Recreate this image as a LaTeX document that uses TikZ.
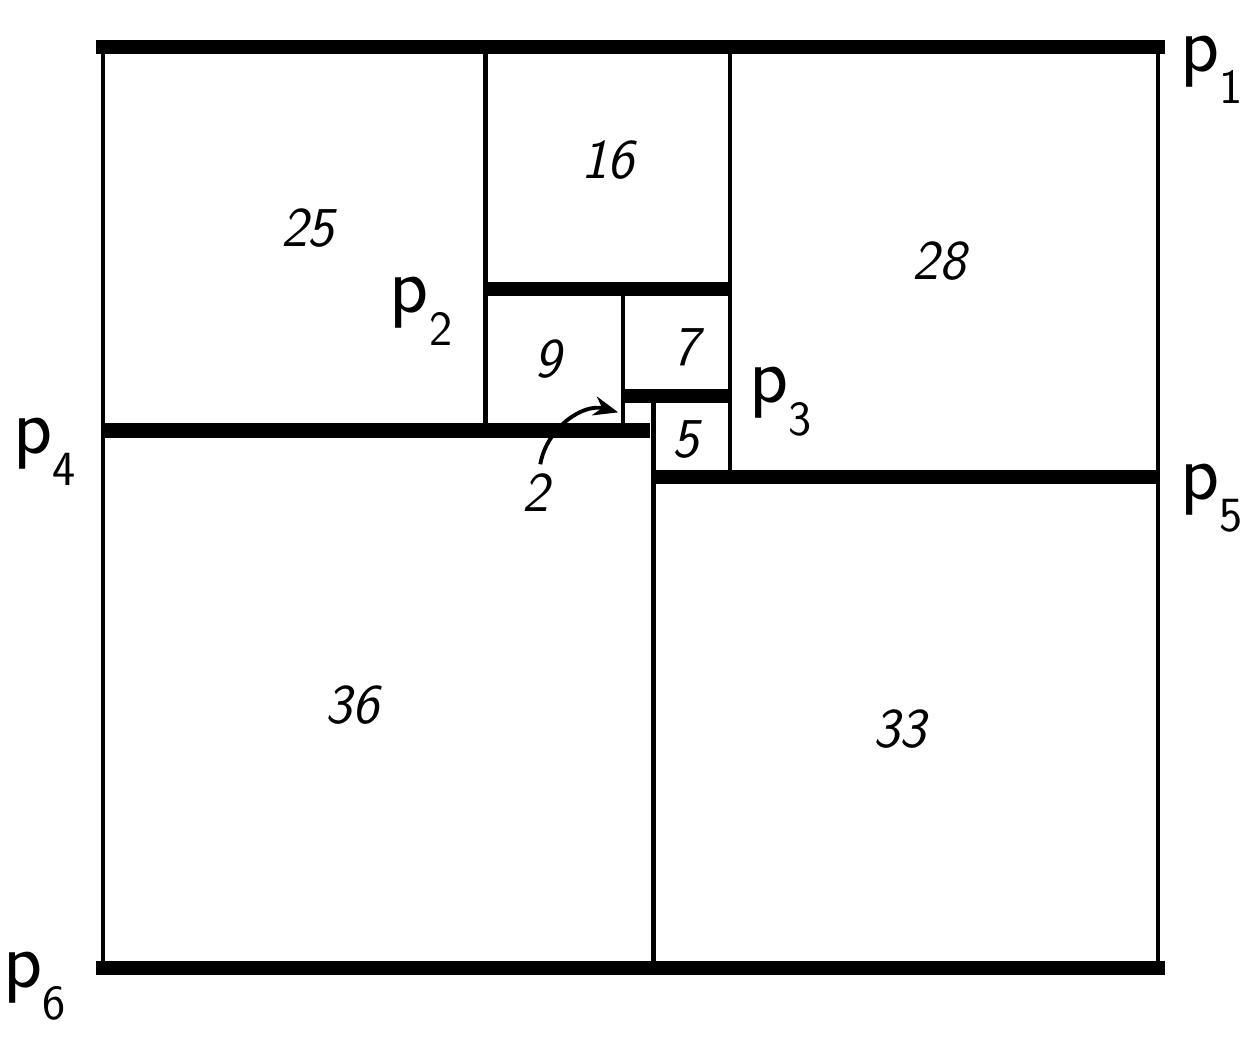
\documentclass[tikz,border=0pt]{standalone}
\usepackage{amsmath}
\usetikzlibrary{arrows.meta}
\newcommand{\polename}[1]{p\raisebox{-0.4em}{\fontsize{28}{28}\selectfont #1}}
\tikzset{
  wire/.style={line width=2.6pt},
  bar/.style={line width=8pt},
  sqlabel/.style={font=\sffamily\itshape\fontsize{32}{32}\selectfont},
  pole/.style={font=\sffamily\fontsize{46}{46}\selectfont, inner sep=0pt}
}
\begin{document}
\begin{tikzpicture}[x=0.3058cm,y=0.302cm]
    \useasboundingbox (-6.736,-4.503) rectangle (75.02,64.11);
    % thin sides of the squares
    \draw[wire] (0,0) -- (0,61);
    \draw[wire] (69,0) -- (69,61);
    \draw[wire] (25,35.6) -- (25,61);
    \draw[wire] (41,32.5) -- (41,61);
    \draw[wire] (36,0) -- (36,37.9);
    \draw[wire] (34,35.6) -- (34,45);
    % thick bars (the poles)
    \draw[bar, line cap=rect] (0,61) -- (69,61);
    \draw[bar, line cap=rect] (0,0) -- (69,0);
    \draw[bar] (25,45) -- (41,45);
    \draw[bar] (34,37.9) -- (41,37.9);
    \draw[bar] (-0.1,35.6) -- (35.8,35.6);
    \draw[bar] (36,32.5) -- (69.1,32.5);
    % sizes
    \node[sqlabel] (s25) at (13.4,49) {25};
    \node[sqlabel] (s16) at (33,53.5) {16};
    \node[sqlabel] (s28) at (54.7,46.8) {28};
    \node[sqlabel] (s9) at (29.1,40.3) {9};
    \node[sqlabel] (s7) at (38.1,41.1) {7};
    \node[sqlabel] (s5) at (38.1,35) {5};
    \node[sqlabel] (s2) at (28.3,31.5) {2};
    \node[sqlabel] (s36) at (16.3,17.4) {36};
    \node[sqlabel] (s33) at (52.1,15.8) {33};
    \coordinate (tip2) at (33.7,36.8);
    \draw[line width=2.2pt, -{Stealth[length=14pt,width=11pt]}] (s2.north) ++(0.3,0.2) to[out=80,in=165] (tip2);
    % poles
    \node[pole] (p1) at (72.5,59.5) {\polename{1}};
    \node[pole] (p2) at (20.8,43.5) {\polename{2}};
    \node[pole] (p3) at (44.3,37.5) {\polename{3}};
    \node[pole] (p4) at (-3.8,34.2) {\polename{4}};
    \node[pole] (p5) at (72.5,31.1) {\polename{5}};
    \node[pole] (p6) at (-4.5,-1.2) {\polename{6}};
\end{tikzpicture}
\end{document}
